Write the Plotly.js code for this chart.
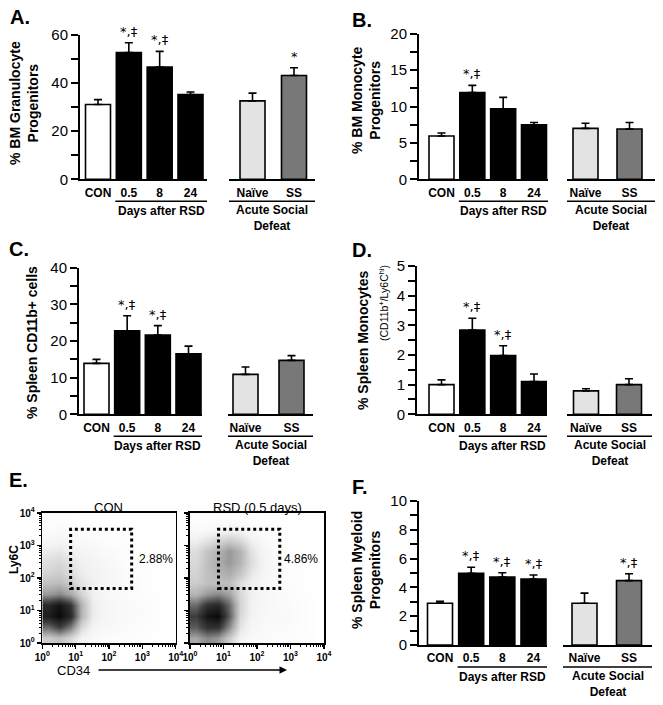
<!DOCTYPE html>
<html>
<head>
<meta charset="utf-8">
<script src="https://cdn.plot.ly/plotly-3.0.1.min.js"></script>
<style>
  html, body { margin: 0; padding: 0; background: #fff; }
  #fig { width: 663px; height: 705px; }
</style>
</head>
<body>
<div id="fig"></div>
<script>
// ---- categories ----
const groupRSD = ["CON", "0.5", "8", "24"];
const groupASD = ["Naïve", "SS"];

// ---- A. BM granulocyte progenitors (%) ----
const granRSD    = [31.0, 52.5, 46.5, 35.1];
const granRSDErr = [2.0, 4.1, 6.5, 1.1];
const granRSDSig = ["", "*,‡", "*,‡", ""];
const granASD    = [32.5, 43.0];
const granASDErr = [3.2, 3.2];
const granASDSig = ["", "*"];

// ---- B. BM monocyte progenitors (%) ----
const monoRSD    = [5.95, 11.9, 9.7, 7.5];
const monoRSDErr = [0.4, 1.0, 1.55, 0.3];
const monoRSDSig = ["", "*,‡", "", ""];
const monoASD    = [7.0, 6.9];
const monoASDErr = [0.7, 0.9];
const monoASDSig = ["", ""];

// ---- C. spleen CD11b+ cells (%) ----
const cd11RSD    = [13.9, 22.8, 21.6, 16.5];
const cd11RSDErr = [1.1, 4.1, 2.6, 2.1];
const cd11RSDSig = ["", "*,‡", "*,‡", ""];
const cd11ASD    = [10.9, 14.7];
const cd11ASDErr = [2.0, 1.3];
const cd11ASDSig = ["", ""];

// ---- D. spleen monocytes CD11b+/Ly6Chi (%) ----
const spMonoRSD    = [1.0, 2.84, 1.98, 1.1];
const spMonoRSDErr = [0.16, 0.4, 0.33, 0.26];
const spMonoRSDSig = ["", "*,‡", "*,‡", ""];
const spMonoASD    = [0.79, 1.0];
const spMonoASDErr = [0.07, 0.2];
const spMonoASDSig = ["", ""];

// ---- F. spleen myeloid progenitors (%) ----
const myelRSD    = [2.9, 4.98, 4.72, 4.58];
const myelRSDErr = [0.13, 0.42, 0.3, 0.28];
const myelRSDSig = ["", "*,‡", "*,‡", "*,‡"];
const myelASD    = [2.9, 4.47];
const myelASDErr = [0.7, 0.48];
const myelASDSig = ["", "*,‡"];

// ---- E. flow plots: dot density per 1/3-decade bin (rows = Ly6C low->high) ----
const logBins = [0.167, 0.5, 0.833, 1.167, 1.5, 1.833, 2.167, 2.5, 2.833, 3.167, 3.5, 3.833];
const densCON = [
  [0.25, 0.30, 0.20, 0.08, 0.04, 0.03, 0.02, 0.02, 0.01, 0.01, 0, 0],
  [0.60, 0.75, 0.55, 0.20, 0.08, 0.05, 0.04, 0.03, 0.02, 0.01, 0.01, 0],
  [0.90, 1.00, 0.85, 0.35, 0.12, 0.07, 0.05, 0.04, 0.03, 0.02, 0.01, 0],
  [0.85, 0.95, 0.80, 0.35, 0.12, 0.07, 0.05, 0.04, 0.03, 0.02, 0.01, 0],
  [0.45, 0.50, 0.40, 0.22, 0.10, 0.06, 0.04, 0.03, 0.02, 0.01, 0.01, 0],
  [0.30, 0.32, 0.25, 0.15, 0.10, 0.07, 0.05, 0.03, 0.02, 0.01, 0, 0],
  [0.22, 0.25, 0.18, 0.12, 0.09, 0.07, 0.05, 0.03, 0.02, 0.01, 0, 0],
  [0.18, 0.20, 0.15, 0.10, 0.08, 0.06, 0.04, 0.02, 0.01, 0.01, 0, 0],
  [0.12, 0.14, 0.10, 0.07, 0.06, 0.04, 0.03, 0.02, 0.01, 0, 0, 0],
  [0.06, 0.07, 0.05, 0.04, 0.03, 0.02, 0.01, 0.01, 0, 0, 0, 0],
  [0.02, 0.03, 0.02, 0.02, 0.01, 0.01, 0, 0, 0, 0, 0, 0],
  [0.01, 0.01, 0.01, 0, 0, 0, 0, 0, 0, 0, 0, 0]
];
const densRSD = [
  [0.40, 0.50, 0.45, 0.25, 0.08, 0.04, 0.03, 0.02, 0.02, 0.01, 0.01, 0],
  [0.65, 0.80, 0.80, 0.50, 0.15, 0.06, 0.04, 0.03, 0.03, 0.02, 0.01, 0],
  [0.75, 0.95, 1.00, 0.65, 0.20, 0.08, 0.05, 0.04, 0.04, 0.02, 0.01, 0],
  [0.60, 0.80, 0.85, 0.60, 0.22, 0.09, 0.06, 0.04, 0.03, 0.02, 0.01, 0],
  [0.35, 0.45, 0.50, 0.42, 0.20, 0.10, 0.06, 0.04, 0.03, 0.02, 0.01, 0],
  [0.25, 0.30, 0.30, 0.30, 0.18, 0.10, 0.06, 0.04, 0.02, 0.01, 0, 0],
  [0.22, 0.30, 0.35, 0.38, 0.28, 0.14, 0.07, 0.04, 0.02, 0.01, 0, 0],
  [0.20, 0.30, 0.38, 0.45, 0.35, 0.18, 0.08, 0.04, 0.02, 0.01, 0, 0],
  [0.18, 0.28, 0.35, 0.45, 0.35, 0.16, 0.07, 0.03, 0.01, 0, 0, 0],
  [0.10, 0.15, 0.20, 0.25, 0.20, 0.10, 0.04, 0.02, 0.01, 0, 0, 0],
  [0.03, 0.05, 0.06, 0.07, 0.06, 0.03, 0.02, 0.01, 0, 0, 0, 0],
  [0.01, 0.01, 0.02, 0.02, 0.01, 0.01, 0, 0, 0, 0, 0, 0]
];
const gateCD34 = [0.85, 2.68];
const gateLy6C = [1.68, 3.5];
const gatePct  = ["2.88%", "4.86%"];
const decadeVals = [0, 1, 2, 3, 4];
const decadeText = ["10<sup>0</sup>", "10<sup>1</sup>", "10<sup>2</sup>", "10<sup>3</sup>", "10<sup>4</sup>"];

// ---- styles / geometry (pixels) ----
const W = 663, H = 705;
const FONT = "Liberation Sans, Arial, sans-serif";
const SIG_FONT = "DejaVu Sans, sans-serif";
const BAR_PX = 25;
const rsdColors = ["#ffffff", "#000000", "#000000", "#000000"];
const asdColors = ["#e3e3e3", "#787878"];
const px = x => x / W;
const py = y => 1 - y / H;
const sfx = n => (n === 1 ? "" : String(n));

const panels = [
  { label: "A.", lab: [8, 17], rsd: granRSD, rsdErr: granRSDErr, rsdSig: granRSDSig,
    asd: granASD, asdErr: granASDErr, asdSig: granASDSig,
    ymax: 60, dtick: 20, minor: 10,
    yx: 80, g1End: 207, g2: [229, 315], yTop: 34.5, yBot: 179.3, c1: [98, 190.5], c2: [252.5, 294],
    titles: [{ text: "% BM Granulocyte<br>Progenitors", x: 24, y: 103, size: 14 }] },
  { label: "B.", lab: [350, 20], rsd: monoRSD, rsdErr: monoRSDErr, rsdSig: monoRSDSig,
    asd: monoASD, asdErr: monoASDErr, asdSig: monoASDSig,
    ymax: 20, dtick: 5, minor: 2.5,
    yx: 419, g1End: 548, g2: [567, 655], yTop: 33.7, yBot: 179.3, c1: [441.5, 534], c2: [585.5, 629.5],
    titles: [{ text: "% BM Monocyte<br>Progenitors", x: 366, y: 100, size: 14 }] },
  { label: "C.", lab: [7, 249], rsd: cd11RSD, rsdErr: cd11RSDErr, rsdSig: cd11RSDSig,
    asd: cd11ASD, asdErr: cd11ASDErr, asdSig: cd11ASDSig,
    ymax: 40, dtick: 10, minor: 5,
    yx: 79, g1End: 202, g2: [228, 313], yTop: 267.7, yBot: 414.3, c1: [96.5, 188.5], c2: [245.5, 291.5],
    titles: [{ text: "% Spleen CD11b+ cells", x: 32, y: 343, size: 14 }] },
  { label: "D.", lab: [350, 250], rsd: spMonoRSD, rsdErr: spMonoRSDErr, rsdSig: spMonoRSDSig,
    asd: spMonoASD, asdErr: spMonoASDErr, asdSig: spMonoASDSig,
    ymax: 5, dtick: 1, minor: 0.5,
    yx: 417, g1End: 547, g2: [567, 652], yTop: 266, yBot: 414.3, c1: [441.5, 534], c2: [586, 629],
    titles: [{ text: "% Spleen Monocytes", x: 363, y: 341, size: 14 },
             { text: "(CD11b<sup>+</sup>/Ly6C<sup>hi</sup>)", x: 383, y: 303, size: 10.5 }] },
  { label: "F.", lab: [350, 487], rsd: myelRSD, rsdErr: myelRSDErr, rsdSig: myelRSDSig,
    asd: myelASD, asdErr: myelASDErr, asdSig: myelASDSig,
    ymax: 10, dtick: 2, minor: 1,
    yx: 419, g1End: 547, g2: [563, 652], yTop: 501, yBot: 645, c1: [440, 533.5], c2: [584.5, 629],
    titles: [{ text: "% Spleen Myeloid<br>Progenitors", x: 366, y: 570, size: 14 }] }
];

const traces = [];
const annotations = [];
const shapes = [];
const layout = {
  width: W, height: H,
  margin: { l: 0, r: 0, t: 0, b: 0 },
  paper_bgcolor: "#fff", plot_bgcolor: "rgba(0,0,0,0)",
  font: { family: FONT, color: "#000" },
  showlegend: false,
  bargap: 0
};

function barTrace(cats, vals, errs, colors, xr, yr, w) {
  return {
    type: "bar", x: cats, y: vals, xaxis: xr, yaxis: yr, width: w,
    marker: { color: colors, line: { color: "#000", width: 1.6 } },
    error_y: { type: "data", symmetric: false, array: errs, arrayminus: errs.map(() => 0),
               color: "#000", thickness: 1.6, width: 4 },
    cliponaxis: false, hoverinfo: "skip", showlegend: false
  };
}

function text(t, x, y, opts) {
  annotations.push(Object.assign({
    text: t, x: px(x), y: py(y), xref: "paper", yref: "paper",
    showarrow: false, xanchor: "center", yanchor: "middle",
    font: { size: 12, family: FONT, color: "#000" }
  }, opts || {}));
}

function hline(x0, x1, y, w) {
  shapes.push({ type: "line", xref: "paper", yref: "paper",
    x0: px(x0), x1: px(x1), y0: py(y), y1: py(y), line: { color: "#000", width: w || 1.5 } });
}

panels.forEach((p, i) => {
  const xa = 2 * i + 1, xb = 2 * i + 2, ya = i + 1;
  const s1 = (p.c1[1] - p.c1[0]) / 3;
  const s2 = p.c2[1] - p.c2[0];
  const xA = "x" + sfx(xa), xB = "x" + sfx(xb), yA = "y" + sfx(ya);
  const xCommon = {
    type: "category", showline: true, linewidth: 2, linecolor: "#000",
    ticks: "", showgrid: false, zeroline: false, fixedrange: true,
    tickfont: { size: 12, family: FONT, weight: "bold", color: "#000" }, ticklabelstandoff: 1,
    anchor: yA
  };
  layout["xaxis" + sfx(xa)] = Object.assign({}, xCommon, {
    domain: [px(p.yx), px(p.g1End)],
    range: [(p.yx - p.c1[0]) / s1, (p.g1End - p.c1[0]) / s1]
  });
  layout["xaxis" + sfx(xb)] = Object.assign({}, xCommon, {
    domain: [px(p.g2[0]), px(p.g2[1])],
    range: [(p.g2[0] - p.c2[0]) / s2, (p.g2[1] - p.c2[0]) / s2]
  });
  layout["yaxis" + sfx(ya)] = {
    domain: [py(p.yBot), py(p.yTop)], range: [0, p.ymax], anchor: xA,
    showline: true, linewidth: 2, linecolor: "#000",
    ticks: "outside", ticklen: 7, tickwidth: 2, tickcolor: "#000", dtick: p.dtick,
    minor: { dtick: p.minor, ticks: "outside", ticklen: 7, tickwidth: 2, tickcolor: "#000", showgrid: false },
    showgrid: false, zeroline: false, fixedrange: true,
    tickfont: { size: 15, family: FONT, color: "#000" }
  };

  traces.push(barTrace(groupRSD, p.rsd, p.rsdErr, rsdColors, xA, yA, BAR_PX / s1));
  traces.push(barTrace(groupASD, p.asd, p.asdErr, asdColors, xB, yA, BAR_PX / s2));

  // significance marks: x given as category index (numeric-looking names would be misread)
  const sig = (vals, errs, marks, xr) => marks.forEach((m, k) => {
    if (!m) return;
    annotations.push({ text: m, x: k, y: vals[k] + errs[k], xref: xr, yref: yA,
      showarrow: false, yanchor: "bottom", yshift: 2,
      font: { size: 13, family: SIG_FONT, color: "#000" } });
  });
  sig(p.rsd, p.rsdErr, p.rsdSig, xA);
  sig(p.asd, p.asdErr, p.asdSig, xB);

  // group captions under the axes
  const ulStart = p.c1[0] + s1 - BAR_PX / 2 - 1;
  hline(ulStart, p.g1End, p.yBot + 22);
  hline(p.g2[0], p.g2[1], p.yBot + 22);
  const cap = { font: { size: 12, family: FONT, weight: "bold", color: "#000" } };
  text("Days after RSD", (ulStart + p.g1End) / 2, p.yBot + 32, cap);
  text("Acute Social<br>Defeat", (p.g2[0] + p.g2[1]) / 2, p.yBot + 38.5, cap);

  p.titles.forEach(t => text(t.text, t.x, t.y, { textangle: -90,
    font: { size: t.size, family: FONT, weight: t.size > 12 ? "bold" : "normal", color: "#000" } }));
  text(p.label, p.lab[0], p.lab[1], { xanchor: "left", font: { size: 20, family: FONT, weight: "bold", color: "#000" } });
});

// ---- panel E: two flow cytometry plots ----
const minorLog = [];
for (let d = 0; d < 4; d++) for (let k = 2; k <= 9; k++) minorLog.push(d + Math.log10(k));

const flowPlots = [
  { dens: densCON, dom: [42.3, 175.7], title: "CON", titleX: 108, pctX: 137, yLabels: true },
  { dens: densRSD, dom: [190, 324], title: "RSD (0.5 days)", titleX: 257, pctX: 282, yLabels: false }
];
const flowTop = 513, flowBot = 643;
flowPlots.forEach((f, j) => {
  const xn = 11 + j, yn = 6 + j;
  const tickStyle = { size: 10, family: FONT, weight: "bold", color: "#000" };
  const common = {
    range: [0, 4], showline: true, mirror: true, linewidth: 1.6, linecolor: "#000",
    ticks: "outside", ticklen: 4, tickwidth: 1.2, tickcolor: "#000",
    tickmode: "array", tickvals: decadeVals, ticktext: decadeText,
    minor: { tickmode: "array", tickvals: minorLog, ticks: "outside", ticklen: 2, tickwidth: 1, tickcolor: "#000" },
    showgrid: false, zeroline: false, fixedrange: true, tickfont: tickStyle
  };
  layout["xaxis" + xn] = Object.assign({}, common, { domain: [px(f.dom[0]), px(f.dom[1])], anchor: "y" + yn });
  layout["yaxis" + yn] = Object.assign({}, common, {
    domain: [py(flowBot), py(flowTop)], anchor: "x" + xn, showticklabels: f.yLabels
  });
  traces.push({
    type: "heatmap", x: logBins, y: logBins, z: f.dens, xaxis: "x" + xn, yaxis: "y" + yn,
    zmin: 0, zmax: 1, zsmooth: "best", showscale: false, hoverinfo: "skip",
    colorscale: [[0, "#ffffff"], [0.1, "#f1f1f1"], [0.4, "#a8a8a8"], [0.75, "#3c3c3c"], [1, "#0a0a0a"]]
  });
  shapes.push({ type: "rect", xref: "x" + xn, yref: "y" + yn,
    x0: gateCD34[0], x1: gateCD34[1], y0: gateLy6C[0], y1: gateLy6C[1],
    line: { color: "#000", width: 3, dash: "dot" } });
  text(f.title, f.titleX, 507, { font: { size: 13, family: FONT, color: "#000" } });
  text(gatePct[j], f.pctX, 559, { xanchor: "left", font: { size: 12, family: FONT, color: "#000" } });
});
text("E.", 7, 480, { xanchor: "left", font: { size: 20, family: FONT, weight: "bold", color: "#000" } });
text("Ly6C", 14, 560, { textangle: -90, font: { size: 12, family: FONT, weight: "bold", color: "#000" } });
text("CD34", 73, 670, { font: { size: 13, family: FONT, color: "#000" } });
annotations.push({ x: px(287), y: py(670), xref: "paper", yref: "paper", ax: -190, ay: 0,
  showarrow: true, arrowhead: 2, arrowsize: 1, arrowwidth: 1.5, arrowcolor: "#000", text: "" });

layout.annotations = annotations;
layout.shapes = shapes;

Plotly.newPlot("fig", traces, layout, { staticPlot: true, displayModeBar: false });
</script>
</body>
</html>
